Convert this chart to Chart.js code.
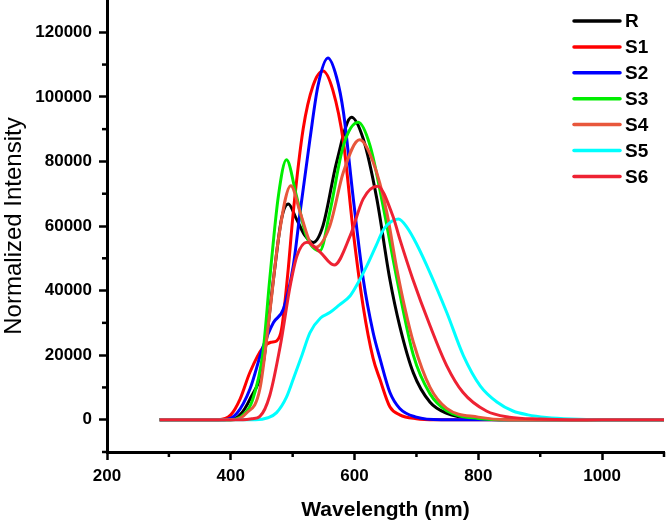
<!DOCTYPE html>
<html>
<head>
<meta charset="utf-8">
<script src="https://cdn.jsdelivr.net/npm/chart.js@4.4.1/dist/chart.umd.min.js"></script>
<style>
  html, body { margin: 0; padding: 0; background: #fff; }
  #wrap { width: 666px; height: 523px; }
</style>
</head>
<body>
<div id="wrap"><canvas id="spectraChart"></canvas></div>
<script>
// wavelengths (nm) and intensities, one pair per sample
const seriesNames = ['R', 'S1', 'S2', 'S3', 'S4', 'S5', 'S6'];
const seriesColors = ['#000000', '#ff0000', '#0000ff', '#00ee00', '#e8573c', '#00ffff', '#ee2233'];

const rNm  = [285, 400, 415, 431, 452, 469, 482, 493, 506, 520, 533, 549, 571, 595, 614, 636, 657, 673, 695, 722, 749, 800, 850, 1100];
const rVal = [0, 0, 1500, 6400, 17000, 43600, 62200, 66800, 62200, 57000, 54900, 60100, 79800, 93700, 87000, 68400, 43500, 29000, 14500, 5400, 2000, 300, 0, 0];

const s1Nm  = [285, 380, 400, 415, 431, 452, 465, 474, 482, 492, 501, 517, 533, 549, 565, 582, 598, 614, 630, 641, 657, 673, 700, 730, 1100];
const s1Val = [0, 0, 1500, 6400, 14700, 22400, 24000, 24400, 28000, 45000, 64300, 90100, 103500, 108000, 102000, 86000, 58000, 35000, 19000, 12500, 4000, 1500, 300, 0, 0];

const s2Nm  = [285, 390, 410, 431, 452, 469, 485, 501, 512, 528, 541, 557, 571, 582, 598, 614, 630, 641, 657, 673, 700, 740, 1100];
const s2Val = [0, 0, 2000, 9500, 22500, 30100, 34300, 47700, 64300, 87000, 103500, 112000, 106000, 95300, 68400, 43600, 27000, 19000, 8500, 3500, 800, 0, 0];

const s3Nm  = [285, 400, 420, 435, 452, 463, 477, 490, 506, 522, 544, 560, 582, 606, 625, 646, 668, 695, 722, 749, 800, 850, 1100];
const s3Val = [0, 0, 1500, 6000, 20800, 43600, 69400, 80500, 69400, 57000, 52300, 64300, 84900, 92100, 84900, 66300, 44000, 20000, 8000, 2800, 400, 0, 0];

const s4Nm  = [285, 405, 425, 447, 463, 477, 497, 512, 528, 537, 560, 582, 608, 630, 652, 668, 682, 695, 722, 749, 800, 850, 1100];
const s4Val = [0, 0, 2000, 9500, 33200, 56000, 72500, 64300, 55000, 53400, 60000, 76700, 86700, 79800, 64300, 47000, 34000, 24000, 10000, 3500, 800, 0, 0];

const s5Nm  = [285, 440, 460, 474, 490, 501, 515, 528, 545, 560, 575, 593, 606, 620, 635, 647, 660, 671, 685, 700, 722, 749, 776, 803, 830, 856, 880, 910, 950, 1000, 1100];
const s5Val = [0, 0, 600, 2200, 7000, 12600, 20000, 27000, 31500, 33200, 35500, 38400, 42500, 47700, 54000, 59000, 61500, 62200, 59500, 54500, 45500, 33200, 19800, 10500, 5500, 2700, 1500, 700, 200, 0, 0];

const s6Nm  = [285, 420, 435, 447, 463, 480, 496, 507, 523, 544, 567, 593, 614, 637, 662, 673, 694, 722, 749, 775, 813, 850, 900, 950, 1100];
const s6Val = [0, 0, 300, 1000, 7500, 22900, 41500, 50800, 55000, 52000, 47900, 57000, 68400, 72300, 63000, 56000, 43600, 29100, 16700, 8500, 2700, 800, 200, 0, 0];

const seriesNm  = [rNm, s1Nm, s2Nm, s3Nm, s4Nm, s5Nm, s6Nm];
const seriesVal = [rVal, s1Val, s2Val, s3Val, s4Val, s5Val, s6Val];

const isMajorX = v => v % 200 === 0 && v < 1100;
const isMajorY = v => v % 20000 === 0 && v >= 0 && v <= 120000;

const noEdgePadding = scale => {
    scale.paddingTop = 0;
    scale.paddingBottom = 0;
    scale.paddingLeft = 0;
    scale.paddingRight = 0;
};

// short minor ticks, drawn from the scales' own pixel mapping
const minorTicks = {
    id: 'minorTicks',
    afterDraw(chart) {
        const ctx = chart.ctx;
        const area = chart.chartArea;
        ctx.save();
        ctx.strokeStyle = '#000';
        ctx.lineWidth = 2.5;
        chart.scales.x.ticks.forEach(t => {
            if (isMajorX(t.value)) return;
            const px = chart.scales.x.getPixelForValue(t.value);
            ctx.beginPath();
            ctx.moveTo(px, area.bottom);
            ctx.lineTo(px, area.bottom + 5);
            ctx.stroke();
        });
        chart.scales.y.ticks.forEach(t => {
            if (isMajorY(t.value)) return;
            const py = chart.scales.y.getPixelForValue(t.value);
            ctx.beginPath();
            ctx.moveTo(area.left, py);
            ctx.lineTo(area.left - 5, py);
            ctx.stroke();
        });
        ctx.restore();
    }
};

// legend sitting inside the plot, top right
const insideLegend = {
    id: 'insideLegend',
    afterDraw(chart) {
        const ctx = chart.ctx;
        const area = chart.chartArea;
        ctx.save();
        ctx.font = 'bold 19px "Liberation Sans", Arial, sans-serif';
        ctx.textBaseline = 'middle';
        ctx.textAlign = 'left';
        ctx.lineCap = 'round';
        chart.data.datasets.forEach((ds, i) => {
            const y = area.top + 21 + i * 25.9;
            ctx.strokeStyle = ds.borderColor;
            ctx.lineWidth = 3.5;
            ctx.beginPath();
            ctx.moveTo(area.right - 90, y);
            ctx.lineTo(area.right - 44, y);
            ctx.stroke();
            ctx.fillStyle = '#000';
            ctx.fillText(ds.label, area.right - 39, y + 1);
        });
        ctx.restore();
    }
};

const ctx = document.getElementById('spectraChart').getContext('2d');
new Chart(ctx, {
    type: 'line',
    data: {
        datasets: seriesNames.map((name, i) => ({
            label: name,
            data: seriesNm[i].map((nm, j) => ({ x: nm, y: seriesVal[i][j] })),
            borderColor: seriesColors[i],
            backgroundColor: seriesColors[i],
            borderWidth: 3,
            pointRadius: 0,
            cubicInterpolationMode: 'monotone',
            order: seriesNames.length - 1 - i
        }))
    },
    options: {
        responsive: true,
        maintainAspectRatio: false,
        animation: false,
        layout: { padding: { top: 0, right: 2, bottom: 0, left: 0 } },
        plugins: {
            legend: { display: false },
            tooltip: { enabled: false }
        },
        scales: {
            x: {
                type: 'linear',
                min: 200,
                max: 1100,
                afterFit: scale => { scale.height = 71; noEdgePadding(scale); },
                border: { color: '#000', width: 3 },
                grid: {
                    drawOnChartArea: false,
                    tickLength: 8,
                    tickWidth: 2.5,
                    tickColor: c => isMajorX(c.tick.value) ? '#000' : 'rgba(0,0,0,0)'
                },
                ticks: {
                    stepSize: 100,
                    padding: 6,
                    color: '#000',
                    maxRotation: 0,
                    autoSkip: false,
                    font: { family: '"Liberation Sans", Arial, sans-serif', size: 17, weight: 'bold' },
                    callback: v => isMajorX(v) ? String(v) : ''
                },
                title: {
                    display: true,
                    text: 'Wavelength (nm)',
                    color: '#000',
                    padding: 0,
                    font: { family: '"Liberation Sans", Arial, sans-serif', size: 21, weight: 'bold' }
                }
            },
            y: {
                min: -10000,
                max: 130000,
                afterFit: scale => { scale.width = 107; noEdgePadding(scale); },
                border: { color: '#000', width: 3 },
                grid: {
                    drawOnChartArea: false,
                    tickLength: 8,
                    tickWidth: 2.5,
                    tickColor: c => isMajorY(c.tick.value) ? '#000' : 'rgba(0,0,0,0)'
                },
                ticks: {
                    stepSize: 10000,
                    padding: 7,
                    color: '#000',
                    autoSkip: false,
                    font: { family: '"Liberation Sans", Arial, sans-serif', size: 17, weight: 'bold' },
                    callback: v => v >= 130000 ? null : (isMajorY(v) ? String(v) : '')
                },
                title: {
                    display: true,
                    text: 'Normalized Intensity',
                    color: '#000',
                    padding: 0,
                    font: { family: '"Liberation Sans", Arial, sans-serif', size: 24, weight: 'normal' }
                }
            }
        }
    },
    plugins: [minorTicks, insideLegend]
});
</script>
</body>
</html>
